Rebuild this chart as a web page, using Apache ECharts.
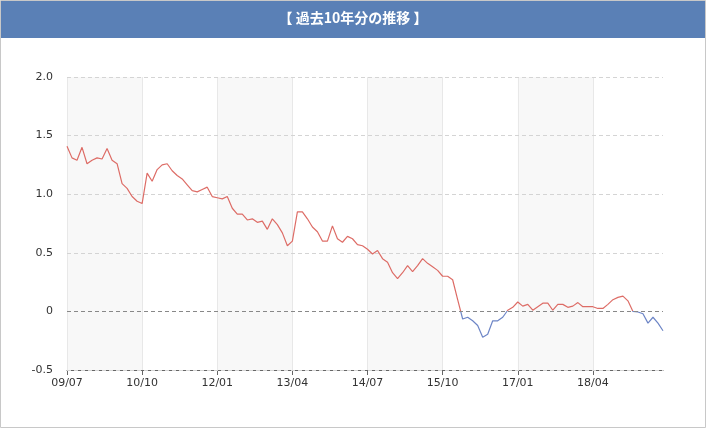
<!DOCTYPE html>
<html>
<head>
<meta charset="utf-8">
<script src="https://cdn.jsdelivr.net/npm/echarts@6/dist/echarts.min.js"></script>
<style>
html,body{margin:0;padding:0;background:#fff;}
#chart{width:706px;height:428px;}
</style>
</head>
<body>
<div id="chart"></div>
<script>
var titleText = '【 過去10年分の推移 】';
var startYear = 2009, startMonth = 7, monthCount = 120;
var values = [
  1.41, 1.31, 1.29, 1.40, 1.26, 1.29, 1.31, 1.30, 1.39, 1.29,
  1.26, 1.09, 1.05, 0.98, 0.94, 0.92, 1.18, 1.11, 1.21, 1.25,
  1.26, 1.20, 1.16, 1.13, 1.08, 1.03, 1.02, 1.04, 1.06, 0.98,
  0.97, 0.96, 0.98, 0.88, 0.83, 0.83, 0.78, 0.79, 0.76, 0.77,
  0.70, 0.79, 0.74, 0.67, 0.56, 0.60, 0.85, 0.85, 0.79, 0.72,
  0.68, 0.60, 0.60, 0.73, 0.62, 0.59, 0.64, 0.62, 0.57, 0.56,
  0.53, 0.49, 0.52, 0.45, 0.42, 0.33, 0.28, 0.33, 0.39, 0.34,
  0.39, 0.45, 0.41, 0.38, 0.35, 0.30, 0.30, 0.27, 0.10, -0.065,
  -0.05, -0.08, -0.12, -0.22, -0.195, -0.08, -0.08, -0.05, 0.01, 0.035,
  0.08, 0.045, 0.06, 0.01, 0.04, 0.07, 0.07, 0.01, 0.06, 0.06,
  0.035, 0.045, 0.075, 0.04, 0.04, 0.04, 0.025, 0.025, 0.06, 0.10,
  0.12, 0.13, 0.09, 0.00, -0.005, -0.02, -0.10, -0.05, -0.10, -0.165
];
var yTicks = { min: -0.5, max: 2.0, interval: 0.5 };
var labelEvery = 15;
var posColor = '#dd6c66', negColor = '#6d85c6';

var categories = [];
for (var k = 0; k < monthCount; k++) {
  var m = startMonth - 1 + k;
  var yy = startYear + Math.floor(m / 12);
  var mm = (m % 12) + 1;
  categories.push(String(yy % 100).padStart(2, '0') + '/' + String(mm).padStart(2, '0'));
}

var chart = echarts.init(document.getElementById('chart'));
var font = 'DejaVu Sans';
chart.setOption({
  animation: false,
  backgroundColor: '#fff',
  graphic: [
    { type: 'rect', shape: { x: 0.5, y: 0.5, width: 705, height: 427 }, style: { fill: 'none', stroke: '#c8c8c8', lineWidth: 1 }, z: 10 },
    { type: 'rect', shape: { x: 1, y: 1, width: 704, height: 37 }, style: { fill: '#5a80b6' }, z: 5 },
    { type: 'text', left: 'center', top: 11, style: { text: titleText, fill: '#fff', font: 'bold 14px "Noto Sans CJK JP"' }, z: 6 }
  ],
  grid: { left: 67, right: 43, top: 77, bottom: 58 },
  xAxis: {
    type: 'category',
    data: categories,
    boundaryGap: false,
    z: 0,
    axisLine: { onZero: false, lineStyle: { color: '#666', width: 1 } },
    axisTick: { show: true, interval: labelEvery - 1, length: 5, lineStyle: { color: '#666' } },
    axisLabel: { interval: labelEvery - 1, color: '#333', fontFamily: font, fontSize: 11, margin: 8 },
    splitLine: { show: true, interval: labelEvery - 1, lineStyle: { color: '#e8e8e8', width: 1 } },
    splitArea: { show: true, interval: labelEvery - 1, areaStyle: { color: ['#f8f8f8', 'rgba(255,255,255,0)'] } }
  },
  yAxis: {
    type: 'value',
    z: 1,
    min: yTicks.min, max: yTicks.max, interval: yTicks.interval,
    axisLine: { show: false },
    axisTick: { show: false },
    axisLabel: {
      color: '#333', fontFamily: font, fontSize: 11, margin: 14,
      formatter: function (v) { return v === 0 ? '0' : v.toFixed(1); }
    },
    splitLine: { show: true, lineStyle: { color: '#d4d4d4', type: [4, 3], width: 1 } }
  },
  series: [{
    type: 'line',
    data: values,
    symbol: 'none',
    lineStyle: { width: 1.2, color: posColor },
    markLine: {
      silent: true,
      symbol: 'none',
      label: { show: false },
      lineStyle: { color: '#888', type: [4, 3], width: 1 },
      data: [{ yAxis: 0 }]
    },
    z: 3
  }]
});

// colour the line red above zero and blue below, split exactly at the zero level
var yTop = chart.convertToPixel({ yAxisIndex: 0 }, yTicks.max);
var yBot = chart.convertToPixel({ yAxisIndex: 0 }, yTicks.min);
var yZero = chart.convertToPixel({ yAxisIndex: 0 }, 0);
var off = (yZero - yTop) / (yBot - yTop);
chart.setOption({
  series: [{
    lineStyle: {
      color: new echarts.graphic.LinearGradient(0, yTop, 0, yBot, [
        { offset: 0, color: posColor },
        { offset: off, color: posColor },
        { offset: off, color: negColor },
        { offset: 1, color: negColor }
      ], true)
    }
  }]
});
</script>
</body>
</html>
